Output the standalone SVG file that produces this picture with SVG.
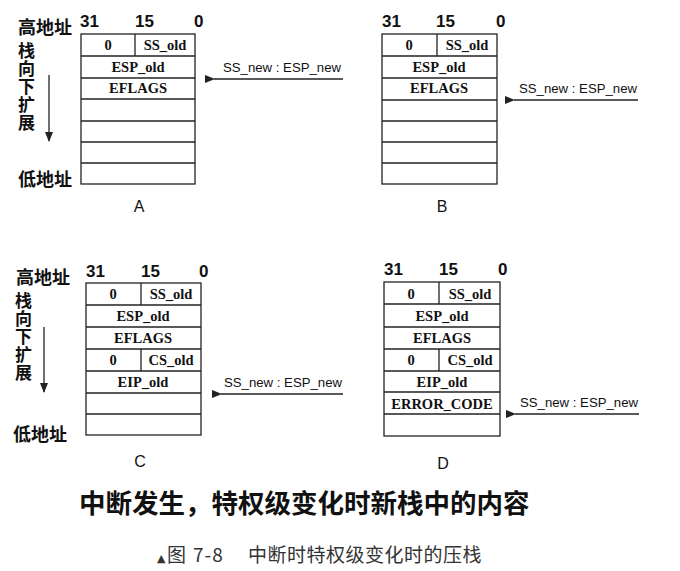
<svg xmlns="http://www.w3.org/2000/svg" width="680" height="571" viewBox="0 0 680 571">
<style>
.bg{fill:#fff}
.box{fill:none;stroke:#222;stroke-width:1.3}
.ln{stroke:#222;stroke-width:1.3}
.cell{font-family:"Liberation Serif",serif;font-weight:bold;font-size:14.5px;fill:#111;text-anchor:middle}
.hdr{font-family:"Liberation Sans",Arial,sans-serif;font-weight:bold;font-size:17px;fill:#111}
.cjk{font-family:"Noto Sans CJK SC",sans-serif;font-weight:bold;font-size:18px;fill:#111}
.vt{font-family:"Noto Sans CJK SC",sans-serif;font-weight:bold;font-size:17px;fill:#111;writing-mode:vertical-rl;letter-spacing:1px}
.ptr{font-family:"Liberation Sans",Arial,sans-serif;font-size:13.2px;fill:#111}
.pl{font-family:"Liberation Sans",Arial,sans-serif;font-size:16px;fill:#111;text-anchor:middle}
.title{font-family:"Noto Sans CJK SC",sans-serif;font-weight:bold;font-size:26.5px;fill:#111}
.cap{font-family:"Noto Sans CJK SC",sans-serif;font-size:19px;fill:#333}
.arr{stroke:#222;stroke-width:1.3;fill:none}
</style>
<defs>
<marker id="ah" viewBox="0 0 10 8" refX="1" refY="4" markerWidth="10" markerHeight="8" markerUnits="userSpaceOnUse" orient="auto-start-reverse">
<path d="M0,4 L10,0 L10,8 Z" fill="#222"/>
</marker>
<marker id="ad" viewBox="0 0 8 10" refX="4" refY="9" markerWidth="8" markerHeight="10" markerUnits="userSpaceOnUse">
<path d="M0,0 L8,0 L4,10 Z" fill="#222"/>
</marker>
</defs>
<rect class="bg" x="0" y="0" width="680" height="571"/>

<!-- Side labels -->
<g id="sideA">
<text class="cjk" x="18" y="34">高地址</text>
<text class="vt" x="26.5" y="42">栈向下扩展</text>
<line class="ln" x1="49" y1="75" x2="49" y2="141" marker-end="url(#ad)"/>
<text class="cjk" x="18" y="186">低地址</text>
</g>
<g id="sideC">
<text class="cjk" x="16" y="284">高地址</text>
<text class="vt" x="23.5" y="292">栈向下扩展</text>
<line class="ln" x1="44" y1="327" x2="44" y2="392" marker-end="url(#ad)"/>
<text class="cjk" x="13" y="441">低地址</text>
</g>

<!-- Panel A -->
<g id="stackA">
<text class="hdr" x="80" y="27">31</text>
<text class="hdr" x="135" y="27">15</text>
<text class="hdr" x="194" y="27">0</text>
<rect class="box" x="81" y="34" width="114" height="150"/>
<line class="ln" x1="81" y1="56" x2="195" y2="56"/>
<line class="ln" x1="81" y1="78" x2="195" y2="78"/>
<line class="ln" x1="81" y1="99" x2="195" y2="99"/>
<line class="ln" x1="81" y1="121" x2="195" y2="121"/>
<line class="ln" x1="81" y1="142" x2="195" y2="142"/>
<line class="ln" x1="81" y1="163" x2="195" y2="163"/>
<line class="ln" x1="135" y1="34" x2="135" y2="56"/>
<text class="cell" x="108" y="50">0</text>
<text class="cell" x="165" y="50">SS_old</text>
<text class="cell" x="138" y="72">ESP_old</text>
<text class="cell" x="138" y="93">EFLAGS</text>
<text class="pl" x="139" y="212">A</text>
</g>

<!-- Panel B -->
<g id="stackB">
<text class="hdr" x="382" y="27">31</text>
<text class="hdr" x="436" y="27">15</text>
<text class="hdr" x="496" y="27">0</text>
<rect class="box" x="382" y="34" width="115" height="150"/>
<line class="ln" x1="382" y1="56" x2="497" y2="56"/>
<line class="ln" x1="382" y1="78" x2="497" y2="78"/>
<line class="ln" x1="382" y1="100" x2="497" y2="100"/>
<line class="ln" x1="382" y1="121" x2="497" y2="121"/>
<line class="ln" x1="382" y1="142" x2="497" y2="142"/>
<line class="ln" x1="382" y1="163" x2="497" y2="163"/>
<line class="ln" x1="437" y1="34" x2="437" y2="56"/>
<text class="cell" x="409" y="50">0</text>
<text class="cell" x="467" y="50">SS_old</text>
<text class="cell" x="439" y="72">ESP_old</text>
<text class="cell" x="439" y="93">EFLAGS</text>
<text class="pl" x="442" y="212">B</text>
</g>

<!-- Panel C -->
<g id="stackC">
<text class="hdr" x="86" y="277">31</text>
<text class="hdr" x="141" y="277">15</text>
<text class="hdr" x="199" y="277">0</text>
<rect class="box" x="86" y="283" width="115" height="152"/>
<line class="ln" x1="86" y1="305" x2="201" y2="305"/>
<line class="ln" x1="86" y1="327" x2="201" y2="327"/>
<line class="ln" x1="86" y1="349" x2="201" y2="349"/>
<line class="ln" x1="86" y1="371" x2="201" y2="371"/>
<line class="ln" x1="86" y1="393" x2="201" y2="393"/>
<line class="ln" x1="86" y1="414" x2="201" y2="414"/>
<line class="ln" x1="141" y1="283" x2="141" y2="305"/>
<line class="ln" x1="141" y1="349" x2="141" y2="371"/>
<text class="cell" x="113" y="299">0</text>
<text class="cell" x="171" y="299">SS_old</text>
<text class="cell" x="143" y="321">ESP_old</text>
<text class="cell" x="143" y="343">EFLAGS</text>
<text class="cell" x="113" y="365">0</text>
<text class="cell" x="171" y="365">CS_old</text>
<text class="cell" x="143" y="387">EIP_old</text>
<text class="pl" x="140" y="467">C</text>
</g>

<!-- Panel D -->
<g id="stackD">
<text class="hdr" x="384" y="275">31</text>
<text class="hdr" x="439" y="275">15</text>
<text class="hdr" x="498" y="275">0</text>
<rect class="box" x="384" y="282" width="116" height="154"/>
<line class="ln" x1="384" y1="304" x2="500" y2="304"/>
<line class="ln" x1="384" y1="327" x2="500" y2="327"/>
<line class="ln" x1="384" y1="349" x2="500" y2="349"/>
<line class="ln" x1="384" y1="371" x2="500" y2="371"/>
<line class="ln" x1="384" y1="392" x2="500" y2="392"/>
<line class="ln" x1="384" y1="414" x2="500" y2="414"/>
<line class="ln" x1="439" y1="282" x2="439" y2="304"/>
<line class="ln" x1="439" y1="349" x2="439" y2="371"/>
<text class="cell" x="411" y="299">0</text>
<text class="cell" x="470" y="299">SS_old</text>
<text class="cell" x="442" y="321">ESP_old</text>
<text class="cell" x="442" y="343">EFLAGS</text>
<text class="cell" x="411" y="365">0</text>
<text class="cell" x="470" y="365">CS_old</text>
<text class="cell" x="442" y="387">EIP_old</text>
<text class="cell" x="442" y="409">ERROR_CODE</text>
<text class="pl" x="443" y="469">D</text>
</g>

<!-- Connectors -->
<g id="connectors">
<line class="arr" x1="343" y1="79" x2="214" y2="79" marker-end="url(#ah)"/>
<text class="ptr" x="223" y="72">SS_new : ESP_new</text>
<line class="arr" x1="638" y1="100" x2="514" y2="100" marker-end="url(#ah)"/>
<text class="ptr" x="519" y="93">SS_new : ESP_new</text>
<line class="arr" x1="343" y1="394" x2="221" y2="394" marker-end="url(#ah)"/>
<text class="ptr" x="224" y="387">SS_new : ESP_new</text>
<line class="arr" x1="639" y1="414" x2="515" y2="414" marker-end="url(#ah)"/>
<text class="ptr" x="520" y="407">SS_new : ESP_new</text>
</g>

<text class="title" x="79" y="513">中断发生，特权级变化时新栈中的内容</text>
<text class="cap" y="562"><tspan x="157" style="font-family:'DejaVu Sans',sans-serif;font-size:11px">▲</tspan><tspan x="167">图</tspan><tspan x="193" dx="0" style="letter-spacing:1px">7-8</tspan><tspan x="248" style="letter-spacing:0.5px">中断时特权级变化时的压栈</tspan></text>
</svg>
